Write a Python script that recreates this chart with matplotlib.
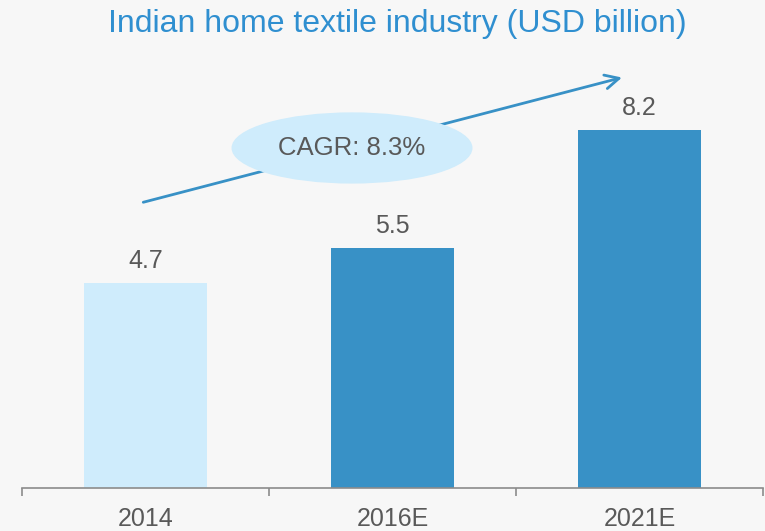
import matplotlib.pyplot as plt
from matplotlib.patches import Ellipse

# Chart data
years = ["2014", "2016E", "2021E"]
values = [4.7, 5.5, 8.2]
cagr_label = "CAGR: 8.3%"
title = "Indian home textile industry (USD billion)"

# Colours
bg = "#f7f7f7"
light_blue = "#cfecfc"
dark_blue = "#3891c6"
text_grey = "#595959"
bar_colors = [light_blue, dark_blue, dark_blue]
font = "Liberation Sans"

fig = plt.figure(figsize=(7.65, 5.31), dpi=100, facecolor=bg)
ax = fig.add_axes([0.0288, 0.081, 0.9686, 0.822], facecolor=bg)

x = list(range(len(years)))
ax.bar(x, values, width=0.5, color=bar_colors, zorder=2)

# Value labels above bars
for xi, v in zip(x, values):
    ax.annotate(f"{v}", (xi, v), xytext=(0, 7), textcoords="offset points",
                ha="center", va="bottom", fontsize=18, color=text_grey, family=font)

ax.set_xlim(-0.5, 2.5)
ax.set_ylim(0, 10)

# Axis styling
for side in ["top", "right", "left"]:
    ax.spines[side].set_visible(False)
ax.spines["bottom"].set_color("#8c8c8c")
ax.spines["bottom"].set_linewidth(1.2)
ax.set_yticks([])
ax.set_xticks(x)
ax.set_xticklabels(years, fontsize=18, color=text_grey, family=font)
ax.tick_params(axis="x", which="major", length=0, pad=14)
ax.set_xticks([-0.5, 0.5, 1.5, 2.5], minor=True)
ax.tick_params(axis="x", which="minor", length=6, width=1.2, color="#8c8c8c")

# Growth arrow and CAGR bubble
ax.annotate("", xy=(1.94, 9.42), xytext=(-0.02, 6.53),
            arrowprops=dict(arrowstyle="->", color=dark_blue, lw=2,
                            mutation_scale=25), zorder=3)
ax.add_patch(Ellipse((0.836, 7.79), 0.97, 1.6, color=light_blue, zorder=4))
ax.text(0.836, 7.79, cagr_label, ha="center", va="center", fontsize=18.5,
        color=text_grey, family=font, zorder=5)

fig.text(0.519, 0.955, title, ha="center", va="center", fontsize=23,
         color="#2f8fd0", family=font)

plt.savefig("out.png", dpi=100, facecolor=bg)
